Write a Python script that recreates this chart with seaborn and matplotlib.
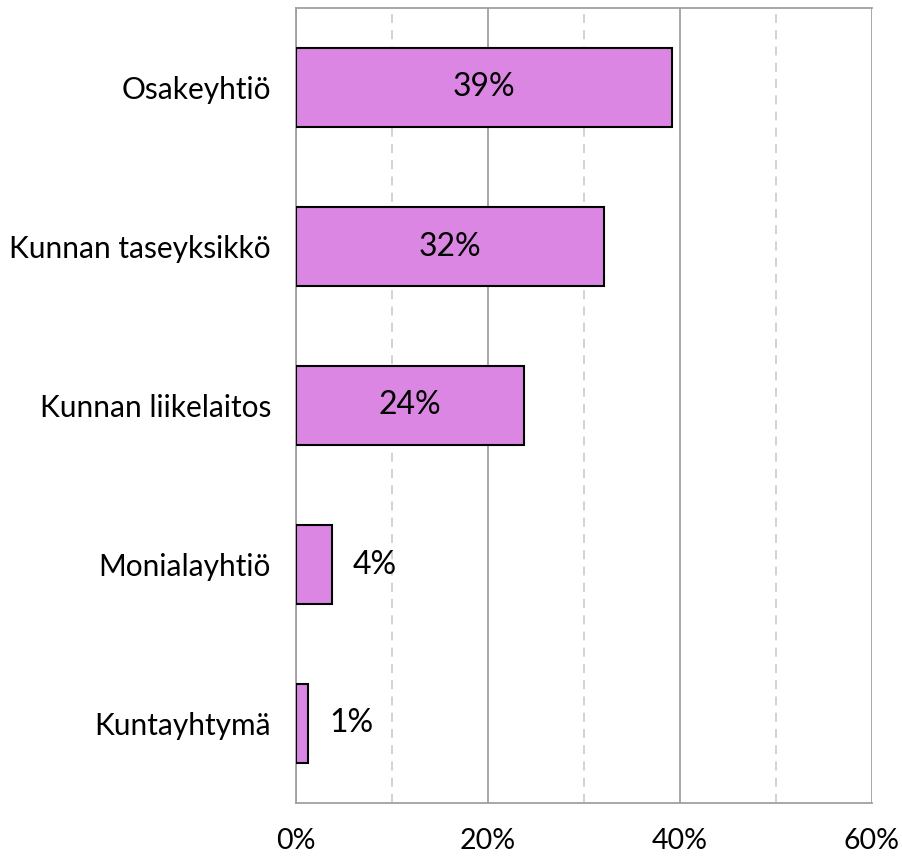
import matplotlib
matplotlib.use("Agg")
import matplotlib.pyplot as plt
import seaborn as sns
import pandas as pd
from matplotlib.ticker import MultipleLocator, FuncFormatter

categories = ["Osakeyhtiö", "Kunnan taseyksikkö", "Kunnan liikelaitos", "Monialayhtiö", "Kuntayhtymä"]
values = [39.2, 32.1, 23.8, 3.7, 1.3]
value_labels = ["39%", "32%", "24%", "4%", "1%"]
x_ticks = [0, 20, 40, 60]

df = pd.DataFrame({"category": categories, "value": values})

sns.set_theme(style="white")
plt.rcParams['font.family'] = ['Lato', 'DejaVu Sans']

fig = plt.figure(figsize=(9.03, 8.58), dpi=100)
ax = fig.add_axes([296/903, 1-803/858, (872-296)/903, (803-8)/858])

sns.barplot(data=df, x="value", y="category", orient="h", color="#DB86E2",
            saturation=1, width=0.5, edgecolor="black", linewidth=1.5, ax=ax, zorder=3)

ax.set_xlim(0, 60)
ax.set_ylim(4.5, -0.5)
ax.xaxis.set_minor_locator(MultipleLocator(10))
ax.set_xticks(x_ticks)
ax.xaxis.set_major_formatter(FuncFormatter(lambda v, p: f"{int(v)}%"))
ax.grid(axis="x", which="major", color="#A0A0A0", linewidth=1.3, zorder=0)
ax.grid(axis="x", which="minor", color="#CFCFCF", linewidth=1.3, linestyle=(0, (5, 4)), zorder=0)
ax.set_axisbelow(True)
ax.set_xlabel("")
ax.set_ylabel("")
ax.tick_params(axis="x", which="both", length=0, pad=18, labelsize=20.5)
ax.tick_params(axis="y", length=0, pad=18, labelsize=21.5)
for lab in ax.get_xticklabels() + ax.get_yticklabels():
    lab.set_color("black")
for s in ax.spines.values():
    s.set_color("#A0A0A0")
    s.set_linewidth(1.3)
ax.spines["right"].set_visible(False)

for i, (v, lab) in enumerate(zip(values, value_labels)):
    if v >= 10:
        ax.text(v/2, i, lab, ha="center", va="center", fontsize=23, color="black", zorder=5)
    else:
        ax.annotate(lab, (v, i), xytext=(15, 0), textcoords="offset points",
                    ha="left", va="center", fontsize=23, color="black", zorder=5)

fig.savefig("out.png", dpi=100)
